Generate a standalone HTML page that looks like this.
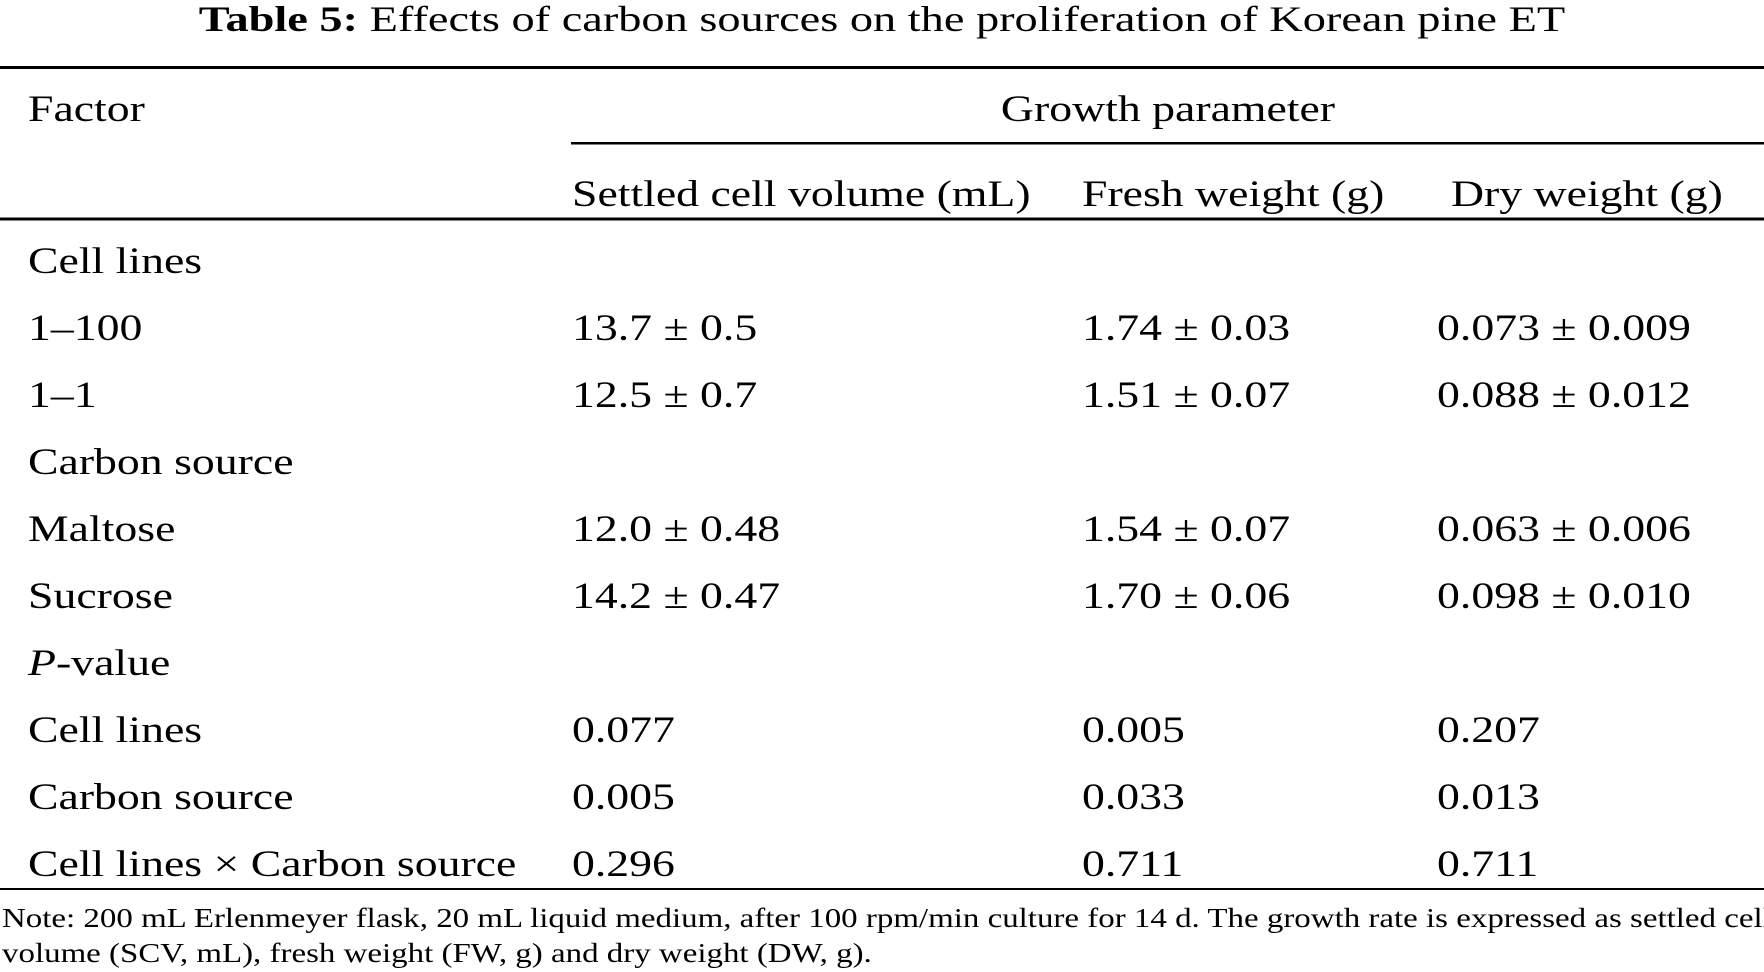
<!DOCTYPE html>
<html><head><meta charset="utf-8"><style>
html,body{margin:0;padding:0;background:#fff;}
svg{display:block;font-family:"Liberation Serif",serif;}
</style></head><body>
<svg id="fig" width="1764" height="972" viewBox="0 0 1764 972">
<text class="t" x="882" y="31" font-size="36" text-anchor="middle"><tspan font-weight="bold">Table 5:</tspan> Effects of carbon sources on the proliferation of Korean pine ET</text>
<rect x="0" y="66" width="1764" height="3" fill="#000"/>
<text x="28" y="121" font-size="37.5">Factor</text>
<text x="1168" y="121" font-size="37.5" text-anchor="middle">Growth parameter</text>
<rect x="571" y="142" width="1193" height="2.5" fill="#000"/>
<text x="572" y="206" font-size="37.5">Settled cell volume (mL)</text>
<text x="1082" y="206" font-size="37.5">Fresh weight (g)</text>
<text x="1451" y="206" font-size="37.5">Dry weight (g)</text>
<rect x="0" y="217.5" width="1764" height="3" fill="#000"/>
<g font-size="37.5">
<text x="28" y="273">Cell lines</text>
<text x="28" y="340">1–100</text><text x="572" y="340">13.7 ± 0.5</text><text x="1082" y="340">1.74 ± 0.03</text><text x="1437" y="340">0.073 ± 0.009</text>
<text x="28" y="407">1–1</text><text x="572" y="407">12.5 ± 0.7</text><text x="1082" y="407">1.51 ± 0.07</text><text x="1437" y="407">0.088 ± 0.012</text>
<text x="28" y="474">Carbon source</text>
<text x="28" y="541">Maltose</text><text x="572" y="541">12.0 ± 0.48</text><text x="1082" y="541">1.54 ± 0.07</text><text x="1437" y="541">0.063 ± 0.006</text>
<text x="28" y="608">Sucrose</text><text x="572" y="608">14.2 ± 0.47</text><text x="1082" y="608">1.70 ± 0.06</text><text x="1437" y="608">0.098 ± 0.010</text>
<text x="28" y="675"><tspan font-style="italic">P</tspan>-value</text>
<text x="28" y="742">Cell lines</text><text x="572" y="742">0.077</text><text x="1082" y="742">0.005</text><text x="1437" y="742">0.207</text>
<text x="28" y="809">Carbon source</text><text x="572" y="809">0.005</text><text x="1082" y="809">0.033</text><text x="1437" y="809">0.013</text>
<text x="28" y="876">Cell lines × Carbon source</text><text x="572" y="876">0.296</text><text x="1082" y="876">0.711</text><text x="1437" y="876">0.711</text>
</g>
<rect x="0" y="888" width="1764" height="2" fill="#000"/>
<text x="2" y="927" font-size="27">Note: 200 mL Erlenmeyer flask, 20 mL liquid medium, after 100 rpm/min culture for 14 d. The growth rate is expressed as settled cell</text>
<text x="2" y="962" font-size="27">volume (SCV, mL), fresh weight (FW, g) and dry weight (DW, g).</text>
</svg>
<script>
document.querySelectorAll('#fig text').forEach(function(t){
  var r = t.classList.contains('t') ? 1.287 : 1.22;
  var w = t.getComputedTextLength();
  t.setAttribute('textLength', (w*r).toFixed(1));
  t.setAttribute('lengthAdjust', 'spacingAndGlyphs');
});
</script>
</body></html>
